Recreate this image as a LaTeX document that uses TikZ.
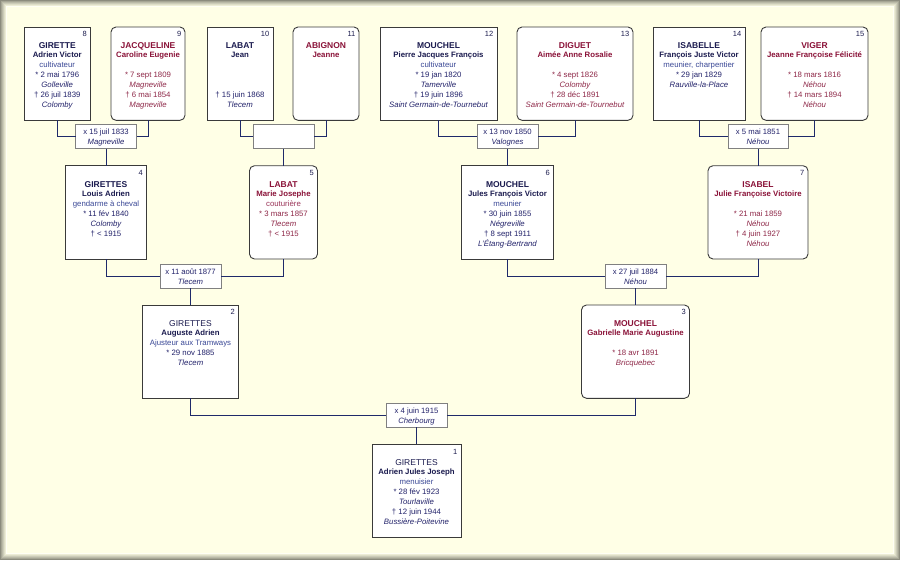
\documentclass[tikz,border=0pt]{standalone}
\usepackage{fontspec}
\setmainfont{Liberation Sans}
\definecolor{cream}{HTML}{FFFFE6}
\definecolor{msur}{HTML}{1A1A4E}
\definecolor{mtext}{HTML}{22226A}
\definecolor{mocc}{HTML}{3A4896}
\definecolor{fsur}{HTML}{8A1238}
\definecolor{ftext}{HTML}{8E2848}
\definecolor{focc}{HTML}{9A3458}
\definecolor{numc}{HTML}{1E1E50}
\definecolor{pborder}{HTML}{3A3A3A}
\definecolor{mborder}{HTML}{808080}
\definecolor{connc}{HTML}{1F2A6A}
\newcommand{\malec}{\def\SC{msur}\def\TC{mtext}\def\OC{mocc}}
\newcommand{\femc}{\def\SC{fsur}\def\TC{ftext}\def\OC{focc}}
\newcommand{\SF}{\fontsize{8.5}{10}\selectfont\bfseries}
\newcommand{\GF}{\fontsize{7.8}{10}\selectfont\bfseries}
\newcommand{\RF}{\fontsize{7.8}{10}\selectfont}
\newcommand{\pbody}[8]{\vbox to 93.3pt{\hsize=#1\relax\lineskiplimit=-\maxdimen
 \hbox to #1{\hss\rule{0pt}{21.5pt}{\SF\color{\SC}#2}\hss}
 \baselineskip=9pt
 \hbox to #1{\hss{\GF\color{\SC}#3}\hss}
 \baselineskip=10pt
 \hbox to #1{\hss{\RF\color{\OC}#4}\hss}
 \hbox to #1{\hss{\RF\color{\TC}#5}\hss}
 \hbox to #1{\hss{\RF\itshape\color{\TC}#6}\hss}
 \hbox to #1{\hss{\RF\color{\TC}#7}\hss}
 \hbox to #1{\hss{\RF\itshape\color{\TC}#8}\hss}
 \vss}}
\newcommand{\mbody}[3]{\vbox to 24pt{\hsize=#1\relax\lineskiplimit=-\maxdimen
 \hbox to #1{\hss\rule{0pt}{9.7pt}#2\hss}
 \baselineskip=10pt
 \hbox to #1{\hss\itshape #3\hss}
 \vss}}
\tikzset{
 person/.style={draw=pborder, fill=white, line width=0.9pt, inner sep=0pt, outer sep=0pt, anchor=north west},
 male/.style={person, execute at begin node=\malec},
 female/.style={person, rounded corners=5pt, execute at begin node=\femc},
 num/.style={anchor=north east, inner sep=0pt, text=numc, font=\fontsize{7.5}{8}\selectfont, xshift=-3.5pt, yshift=-4.5pt},
 marr/.style={draw=mborder, fill=white, line width=0.9pt, inner sep=0pt, outer sep=0pt, anchor=north west, text=mtext, font=\fontsize{7.7}{10}\selectfont},
 conn/.style={draw=connc, line width=0.9pt}
}
\begin{document}
\begin{tikzpicture}[x=1pt,y=-1pt]
\useasboundingbox (0,0) rectangle (900,560);
% frame
\fill[black!45!cream] (0,0) rectangle (900,560);
\fill[black!35!cream] (1,1) rectangle (899,559);
\fill[black!27!cream] (2,2) rectangle (898,558);
\fill[black!20!cream] (3,3) rectangle (897,557);
\fill[black!13!cream] (4,4) rectangle (896,556);
\fill[black!7!cream] (5,5) rectangle (895,555);
\fill[white!60!cream] (6,6) rectangle (894,554);
\fill[cream] (7,7) rectangle (893,553);
% generation 4
\node[male, label={[num,name=n8]north east:8}] (p8) at (24,27)
 {\pbody{66.5pt}{GIRETTE}{Adrien Victor}{cultivateur}{* 2 mai 1796}{Golleville}{† 26 juil 1839}{Colomby}};
\node[female, label={[num,name=n9]north east:9}] (p9) at (111,27)
 {\pbody{74pt}{JACQUELINE}{Caroline Eugenie}{}{* 7 sept 1809}{Magneville}{† 6 mai 1854}{Magneville}};
\node[male, label={[num,name=n10]north east:10}] (p10) at (207,27)
 {\pbody{66pt}{LABAT}{Jean}{}{}{}{† 15 juin 1868}{Tlecem}};
\node[female, label={[num,name=n11]north east:11}] (p11) at (293,27)
 {\pbody{66pt}{ABIGNON}{Jeanne}{}{}{}{}{}};
\node[male, label={[num,name=n12]north east:12}] (p12) at (380,27)
 {\pbody{117pt}{MOUCHEL}{Pierre Jacques François}{cultivateur}{* 19 jan 1820}{Tamerville}{† 19 juin 1896}{Saint Germain-de-Tournebut}};
\node[female, label={[num,name=n13]north east:13}] (p13) at (517,27)
 {\pbody{116pt}{DIGUET}{Aimée Anne Rosalie}{}{* 4 sept 1826}{Colomby}{† 28 déc 1891}{Saint Germain-de-Tournebut}};
\node[male, label={[num,name=n14]north east:14}] (p14) at (653,27)
 {\pbody{92pt}{ISABELLE}{François Juste Victor}{meunier, charpentier}{* 29 jan 1829}{Rauville-la-Place}{}{}};
\node[female, label={[num,name=n15]north east:15}] (p15) at (761,27)
 {\pbody{107pt}{VIGER}{Jeanne Françoise Félicité}{}{* 18 mars 1816}{Néhou}{† 14 mars 1894}{Néhou}};
% marriages gen 4
\node[marr] (m8) at (75.5,124.5) {\mbody{61pt}{x 15 juil 1833}{Magneville}};
\node[marr] (m10) at (253,124.5) {\mbody{61pt}{}{}};
\node[marr] (m12) at (477,124.5) {\mbody{61pt}{x 13 nov 1850}{Valognes}};
\node[marr] (m14) at (728,124.5) {\mbody{60pt}{x 5 mai 1851}{Néhou}};
% generation 3
\node[male, label={[num,name=n4]north east:4}] (p4) at (65.5,165.7)
 {\pbody{81pt}{GIRETTES}{Louis Adrien}{gendarme à cheval}{* 11 fév 1840}{Colomby}{† < 1915}{}};
\node[female, label={[num,name=n5]north east:5}] (p5) at (249.5,165.7)
 {\pbody{68pt}{LABAT}{Marie Josephe}{couturière}{* 3 mars 1857}{Tlecem}{† < 1915}{}};
\node[male, label={[num,name=n6]north east:6}] (p6) at (461.5,165.7)
 {\pbody{92pt}{MOUCHEL}{Jules François Victor}{meunier}{* 30 juin 1855}{Négreville}{† 8 sept 1911}{L'Étang-Bertrand}};
\node[female, label={[num,name=n7]north east:7}] (p7) at (708,165.7)
 {\pbody{100pt}{ISABEL}{Julie Françoise Victoire}{}{* 21 mai 1859}{Néhou}{† 4 juin 1927}{Néhou}};
% marriages gen 3
\node[marr] (m4) at (160,264.3) {\mbody{61pt}{x 11 août 1877}{Tlecem}};
\node[marr] (m6) at (605,264.3) {\mbody{61pt}{x 27 juil 1884}{Néhou}};
% generation 2
\node[male, label={[num,name=n2]north east:2}] (p2) at (142.5,305)
 {\pbody{96pt}{\mdseries GIRETTES}{Auguste Adrien}{Ajusteur aux Tramways}{* 29 nov 1885}{Tlecem}{}{}};
\node[female, label={[num,name=n3]north east:3}] (p3) at (581.5,305)
 {\pbody{108pt}{MOUCHEL}{Gabrielle Marie Augustine}{}{* 18 avr 1891}{Bricquebec}{}{}};
% marriage gen 2
\node[marr] (m2) at (386,403.3) {\mbody{61pt}{x 4 juin 1915}{Cherbourg}};
% generation 1
\node[male, label={[num,name=n1]north east:1}] (p1) at (372,444.3)
 {\pbody{89pt}{\mdseries GIRETTES}{Adrien Jules Joseph}{menuisier}{* 28 fév 1923}{Tourlaville}{† 12 juin 1944}{Bussière-Poitevine}};
% connectors
\draw[conn] (p8.south) |- (m8.west);
\draw[conn] (p9.south) |- (m8.east);
\draw[conn] (m8.south) -- (p4.north);
\draw[conn] (p10.south) |- (m10.west);
\draw[conn] (p11.south) |- (m10.east);
\draw[conn] (m10.south) -- (p5.north);
\draw[conn] (p12.south) |- (m12.west);
\draw[conn] (p13.south) |- (m12.east);
\draw[conn] (m12.south) -- (p6.north);
\draw[conn] (p14.south) |- (m14.west);
\draw[conn] (p15.south) |- (m14.east);
\draw[conn] (m14.south) -- (p7.north);
\draw[conn] (p4.south) |- (m4.west);
\draw[conn] (p5.south) |- (m4.east);
\draw[conn] (m4.south) -- (p2.north);
\draw[conn] (p6.south) |- (m6.west);
\draw[conn] (p7.south) |- (m6.east);
\draw[conn] (m6.south) -- (p3.north);
\draw[conn] (p2.south) |- (m2.west);
\draw[conn] (p3.south) |- (m2.east);
\draw[conn] (m2.south) -- (p1.north);
\end{tikzpicture}
\end{document}
